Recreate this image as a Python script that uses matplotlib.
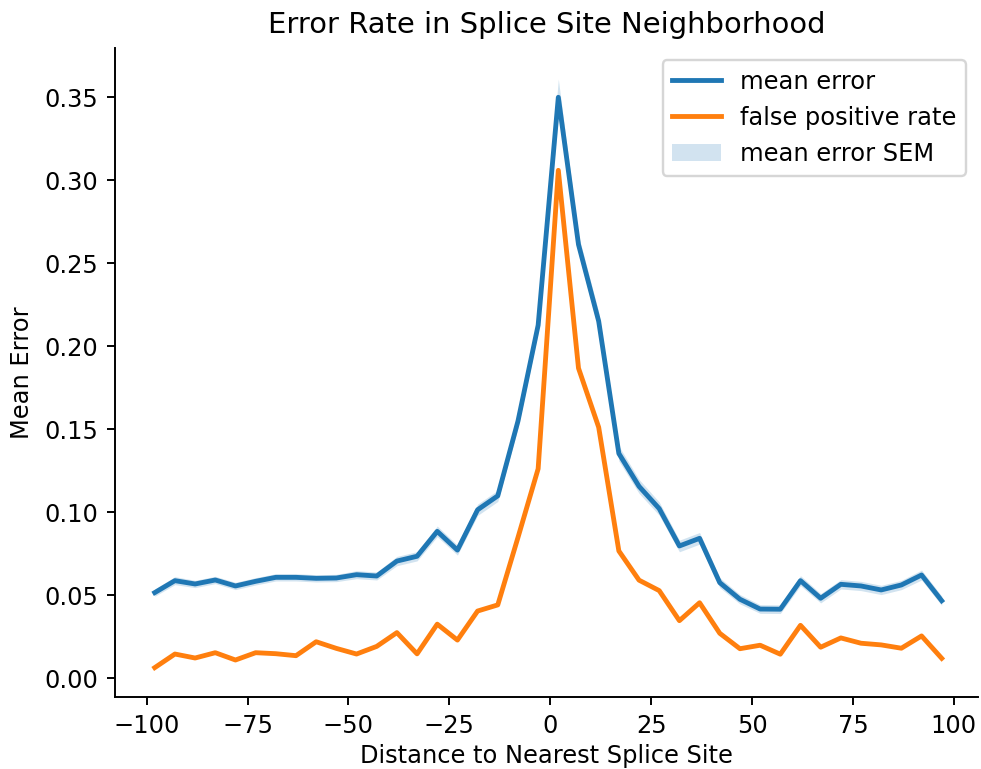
import numpy as np
import matplotlib
matplotlib.use("Agg")
import matplotlib.pyplot as plt

# distance bins (centre of each 5-bp window)
distance = np.arange(-98, 98, 5)

mean_error = [0.0516, 0.0588, 0.0568, 0.0592, 0.0556, 0.0584, 0.0608, 0.0608,
              0.0602, 0.0604, 0.0624, 0.0616, 0.0706, 0.0735, 0.0885, 0.0772,
              0.1015, 0.1099, 0.1549, 0.2127, 0.3500, 0.2613, 0.2151, 0.1354,
              0.1156, 0.1022, 0.0797, 0.0843, 0.0576, 0.0476, 0.0417, 0.0416,
              0.0588, 0.0482, 0.0566, 0.0556, 0.0532, 0.0562, 0.0622, 0.0467]

mean_error_sem = [0.0022, 0.0024, 0.0022, 0.0022, 0.0022, 0.0022, 0.0022, 0.0022,
                  0.0022, 0.0022, 0.0024, 0.0024, 0.0028, 0.0028, 0.0032, 0.0030,
                  0.0034, 0.0034, 0.0040, 0.0045, 0.0110, 0.0055, 0.0055, 0.0045,
                  0.0042, 0.0040, 0.0035, 0.0035, 0.0030, 0.0028, 0.0026, 0.0026,
                  0.0030, 0.0028, 0.0028, 0.0028, 0.0028, 0.0028, 0.0030, 0.0028]

false_positive_rate = [0.0064, 0.0146, 0.0122, 0.0154, 0.0110, 0.0154, 0.0148, 0.0136,
                       0.0220, 0.0180, 0.0146, 0.0192, 0.0275, 0.0147, 0.0326, 0.0230,
                       0.0405, 0.0442, 0.0848, 0.1262, 0.3060, 0.1868, 0.1512, 0.0767,
                       0.0591, 0.0528, 0.0347, 0.0455, 0.0271, 0.0178, 0.0199, 0.0145,
                       0.0319, 0.0187, 0.0243, 0.0211, 0.0201, 0.0181, 0.0255, 0.0120]

mean_error = np.array(mean_error)
mean_error_sem = np.array(mean_error_sem)

DPI = 174
fig = plt.figure(figsize=(981 / DPI, 769 / DPI), dpi=DPI)
ax = fig.add_axes([0.117, 0.0936, 0.88, 0.844])

ax.plot(distance, mean_error, color="C0", lw=2, label="mean error")
ax.plot(distance, false_positive_rate, color="C1", lw=2, label="false positive rate")
ax.fill_between(distance, mean_error - mean_error_sem, mean_error + mean_error_sem,
                color="C0", alpha=0.2, lw=0, label="mean error SEM")

ax.set_xlim(-107.9, 106.0)
ax.set_ylim(-0.0113, 0.3797)
ax.set_xticks([-100, -75, -50, -25, 0, 25, 50, 75, 100])
ax.set_yticks(np.arange(0, 0.351, 0.05))

ax.spines["top"].set_visible(False)
ax.spines["right"].set_visible(False)

ax.set_title("Error Rate in Splice Site Neighborhood", fontsize=12)
ax.set_xlabel("Distance to Nearest Splice Site", labelpad=2.5)
ax.set_ylabel("Mean Error")
ax.legend(loc="upper right", fontsize=10)

fig.savefig("out.png", dpi=DPI)
